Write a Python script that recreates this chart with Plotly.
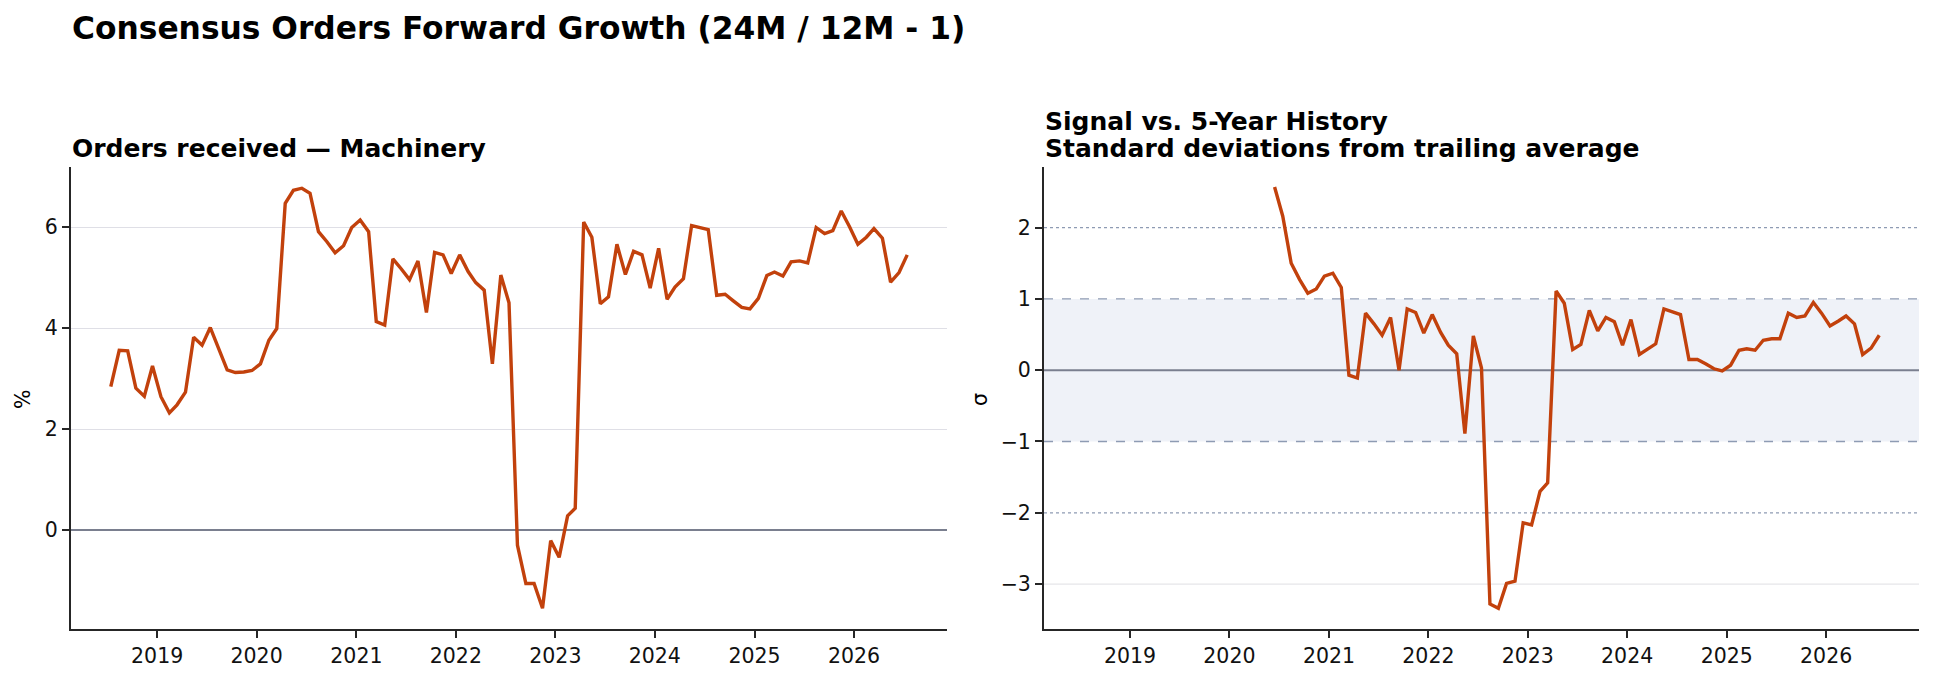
import pandas as pd
import plotly.graph_objects as go

# ---------------- data ----------------
dates = pd.date_range("2018-07-01", periods=97, freq="MS") + pd.Timedelta(days=14)

orders_growth = [
    2.84, 3.56, 3.55, 2.81, 2.65, 3.25, 2.64, 2.32, 2.48, 2.73,
    3.82, 3.66, 4.01, 3.58, 3.17, 3.12, 3.13, 3.16, 3.29, 3.76,
    3.99, 6.47, 6.73, 6.77, 6.67, 5.91, 5.71, 5.49, 5.63, 5.99,
    6.14, 5.91, 4.13, 4.06, 5.37, 5.17, 4.96, 5.33, 4.31, 5.50,
    5.45, 5.08, 5.45, 5.12, 4.90, 4.75, 3.29, 5.05, 4.50, -0.30,
    -1.06, -1.06, -1.55, -0.21, -0.54, 0.28, 0.43, 6.10, 5.80, 4.48,
    4.62, 5.66, 5.06, 5.52, 5.45, 4.79, 5.58, 4.57, 4.81, 4.98,
    6.03, 5.99, 5.95, 4.65, 4.67, 4.54, 4.41, 4.38, 4.59, 5.04,
    5.11, 5.03, 5.31, 5.33, 5.29, 5.99, 5.87, 5.93, 6.32, 6.01,
    5.66, 5.80, 5.97, 5.78, 4.91, 5.10, 5.45,
]

zscore = [None] * 23 + [
    2.57, 2.16, 1.50, 1.27, 1.08, 1.14, 1.32, 1.36, 1.16, -0.07,
    -0.11, 0.80, 0.65, 0.49, 0.74, 0.00, 0.86, 0.81, 0.52, 0.78,
    0.53, 0.35, 0.23, -0.89, 0.48, 0.03, -3.28, -3.34, -2.99, -2.96,
    -2.14, -2.17, -1.70, -1.58, 1.11, 0.94, 0.29, 0.36, 0.84, 0.55,
    0.74, 0.68, 0.35, 0.71, 0.22, 0.29, 0.37, 0.86, 0.82, 0.78,
    0.15, 0.15, 0.09, 0.02, -0.01, 0.07, 0.28, 0.30, 0.28, 0.42,
    0.44, 0.44, 0.80, 0.74, 0.76, 0.95, 0.80, 0.62, 0.69, 0.76,
    0.65, 0.22, 0.31, 0.49,
]

year_ticks = ["2019-01-01", "2020-01-01", "2021-01-01", "2022-01-01",
              "2023-01-01", "2024-01-01", "2025-01-01", "2026-01-01"]
year_labels = ["2019", "2020", "2021", "2022", "2023", "2024", "2025", "2026"]
left_yticks = [0, 2, 4, 6]
right_yticks = [-3, -2, -1, 0, 1, 2]

main_title = "Consensus Orders Forward Growth (24M / 12M - 1)"
left_title = "Orders received — Machinery"
right_title_1 = "Signal vs. 5-Year History"
right_title_2 = "Standard deviations from trailing average"

# ---------------- style ----------------
W, H = 1934, 679
LINE = "#c2410c"
SPINE = "#262626"
FONT = "DejaVu Sans"
TICK_FS = 20.5

def px_x(x):
    return x / W

def px_y(y):
    return 1 - y / H

fig = go.Figure()
fig.add_trace(go.Scatter(x=dates, y=orders_growth, mode="lines",
                         line=dict(color=LINE, width=3.4), xaxis="x", yaxis="y",
                         showlegend=False, connectgaps=False))
fig.add_trace(go.Scatter(x=dates, y=zscore, mode="lines",
                         line=dict(color=LINE, width=3.4), xaxis="x2", yaxis="y2",
                         showlegend=False, connectgaps=False))

xrange = ["2018-02-19", "2026-12-08"]
common_x = dict(type="date", range=xrange, tickvals=year_ticks, ticktext=year_labels,
                showline=True, linecolor=SPINE, linewidth=2, ticks="outside",
                ticklen=7, tickwidth=2, tickcolor=SPINE, showgrid=False,
                zeroline=False, tickfont=dict(family=FONT, size=TICK_FS, color="#111"),
                automargin=False)
common_y = dict(showline=True, linecolor=SPINE, linewidth=2, ticks="outside",
                ticklen=7, tickwidth=2, tickcolor=SPINE,
                tickfont=dict(family=FONT, size=TICK_FS, color="#111"),
                automargin=False)

fig.update_layout(
    width=W, height=H,
    margin=dict(l=0, r=0, t=0, b=0),
    paper_bgcolor="white", plot_bgcolor="white",
    font=dict(family=FONT, color="#000"),
    xaxis=dict(domain=[px_x(71), px_x(947)], anchor="y", **common_x),
    yaxis=dict(domain=[px_y(629), px_y(167)], anchor="x", range=[-1.96, 7.19],
               tickvals=left_yticks, showgrid=True, gridcolor="#dfdfe6", gridwidth=1,
               zeroline=True, zerolinecolor="#7a7f8f", zerolinewidth=2, **common_y),
    xaxis2=dict(domain=[px_x(1044), px_x(1919)], anchor="y2", **common_x),
    yaxis2=dict(domain=[px_y(629), px_y(167)], anchor="x2", range=[-3.63, 2.85],
                tickvals=right_yticks, showgrid=False, zeroline=False, **common_y),
)

# reference band and lines on right panel
fig.add_shape(type="rect", xref="x2 domain", yref="y2", x0=0, x1=1, y0=-1, y1=1,
              fillcolor="#eff2f8", line=dict(width=0), layer="below")
for v, dash, w, c in [(1, "dash", 1.3, "#8e9bb3"), (-1, "dash", 1.3, "#8e9bb3"),
                      (2, "dot", 1.2, "#8e9bb3"), (-2, "dot", 1.2, "#8e9bb3"),
                      (-3, "solid", 1, "#dfdfe3"), (0, "solid", 2, "#7a7f8f")]:
    fig.add_shape(type="line", xref="x2 domain", yref="y2", x0=0, x1=1, y0=v, y1=v,
                  line=dict(color=c, width=w, dash=dash), layer="below")

ann = []
ann.append(dict(text=f"<b>{main_title}</b>", x=px_x(70), y=px_y(28), xref="paper", yref="paper",
                xanchor="left", yanchor="middle", showarrow=False,
                font=dict(family=FONT, size=31.3, color="#000")))
ann.append(dict(text=f"<b>{left_title}</b>", x=px_x(70), y=px_y(148), xref="paper", yref="paper",
                xanchor="left", yanchor="middle", showarrow=False,
                font=dict(family=FONT, size=25, color="#000")))
ann.append(dict(text=f"<b>{right_title_1}</b>", x=px_x(1043), y=px_y(121), xref="paper", yref="paper",
                xanchor="left", yanchor="middle", showarrow=False,
                font=dict(family=FONT, size=25, color="#000")))
ann.append(dict(text=f"<b>{right_title_2}</b>", x=px_x(1043), y=px_y(148), xref="paper", yref="paper",
                xanchor="left", yanchor="middle", showarrow=False,
                font=dict(family=FONT, size=25, color="#000")))
ann.append(dict(text="%", x=px_x(23), y=px_y(400), xref="paper", yref="paper",
                xanchor="center", yanchor="middle", showarrow=False, textangle=-90,
                font=dict(family=FONT, size=TICK_FS, color="#000")))
ann.append(dict(text="σ", x=px_x(980), y=px_y(400), xref="paper", yref="paper",
                xanchor="center", yanchor="middle", showarrow=False, textangle=-90,
                font=dict(family=FONT, size=TICK_FS, color="#000")))
fig.update_layout(annotations=ann)

fig.write_html("out.html")
